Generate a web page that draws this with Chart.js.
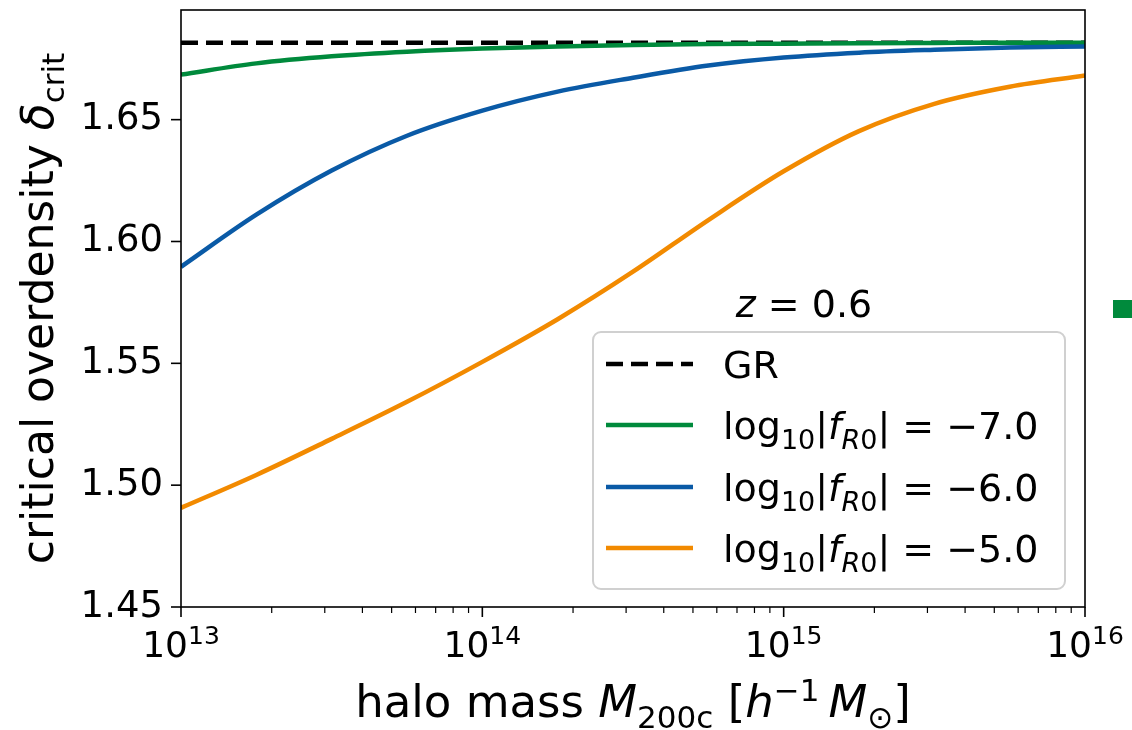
<!DOCTYPE html>
<html><head><meta charset="utf-8">
<script src="https://cdn.jsdelivr.net/npm/chart.js@4.4.0/dist/chart.umd.min.js"></script>
<style>html,body{margin:0;padding:0;background:#fff;}#wrap{position:relative;width:1132px;height:730px;}</style>
</head><body><div id="wrap"><canvas id="c" width="1132" height="730"></canvas></div>
<script>
// ---- data (log10 of halo mass) ----
const logMass = [13.0, 13.25, 13.5, 13.75, 14.0, 14.25, 14.5, 14.75, 15.0, 15.25, 15.5, 15.75, 16.0];
const deltaGR = [1.6816, 1.6816, 1.6816, 1.6816, 1.6816, 1.6816, 1.6816, 1.6816, 1.6816, 1.6816, 1.6816, 1.6816, 1.6816];
const deltaF7 = [1.6685, 1.6731, 1.6760, 1.6779, 1.6792, 1.6800, 1.6806, 1.6810, 1.6812, 1.6814, 1.6815, 1.6816, 1.6816];
const deltaF6 = [1.5896, 1.6110, 1.6291, 1.6434, 1.6537, 1.6615, 1.6672, 1.6722, 1.6755, 1.6775, 1.6787, 1.6796, 1.6800];
const deltaF5 = [1.4907, 1.5042, 1.5190, 1.5342, 1.5506, 1.5681, 1.5876, 1.6088, 1.6288, 1.6453, 1.6565, 1.6635, 1.6681];
const fR0Values = ['\u22127.0', '\u22126.0', '\u22125.0'];
const yTicks = [1.45, 1.50, 1.55, 1.60, 1.65];
const xTicks = [13, 14, 15, 16];
const xTickExponents = ['13', '14', '15', '16'];
const redshift = '0.6';

const FONT = '"DejaVu Sans"';
const COLORS = ['#000000', '#008a3c', '#0a5aa6', '#f28a00'];

function pts(ys) { return logMass.map((x, i) => ({x: x, y: ys[i]})); }

// math-text helper: parts [{t, s, it, dy}]
function mathWidth(ctx, parts, size) {
  let w = 0;
  for (const p of parts) {
    ctx.font = (p.it ? 'italic ' : '') + Math.round(size * (p.s || 1)) + 'px ' + FONT;
    w += ctx.measureText(p.t).width;
  }
  return w;
}
function drawMath(ctx, parts, x, y, size, align) {
  const w = mathWidth(ctx, parts, size);
  let cx = align === 'center' ? x - w / 2 : (align === 'right' ? x - w : x);
  ctx.textBaseline = 'alphabetic';
  ctx.textAlign = 'left';
  for (const p of parts) {
    ctx.font = (p.it ? 'italic ' : '') + Math.round(size * (p.s || 1)) + 'px ' + FONT;
    ctx.fillText(p.t, cx, y + (p.dy || 0) * size);
    cx += ctx.measureText(p.t).width;
  }
}
const SUB = 0.25, SUP = -0.36, SS = 0.7;

const decor = {
  id: 'decor',
  afterDraw(chart) {
    const ctx = chart.ctx, a = chart.chartArea;
    const xs = chart.scales.x, ys = chart.scales.y;
    ctx.save();
    ctx.fillStyle = '#000'; ctx.strokeStyle = '#000';
    // frame
    ctx.lineWidth = 1.6;
    ctx.strokeRect(a.left, a.top, a.right - a.left, a.bottom - a.top);
    // x ticks (major + minor)
    for (let d = 13; d < 16; d++) {
      for (let m = 2; m <= 9; m++) {
        const px = xs.getPixelForValue(d + Math.log10(m));
        ctx.lineWidth = 1.2;
        ctx.beginPath(); ctx.moveTo(px, a.bottom); ctx.lineTo(px, a.bottom + 6); ctx.stroke();
      }
    }
    xTicks.forEach((v, i) => {
      const px = xs.getPixelForValue(v);
      ctx.lineWidth = 1.6;
      ctx.beginPath(); ctx.moveTo(px, a.bottom); ctx.lineTo(px, a.bottom + 10); ctx.stroke();
      drawMath(ctx, [{t: '10'}, {t: xTickExponents[i], s: SS, dy: -0.36}], px, 657, 36, 'center');
    });
    // y ticks
    yTicks.forEach(v => {
      const py = ys.getPixelForValue(v);
      ctx.lineWidth = 1.6;
      ctx.beginPath(); ctx.moveTo(a.left, py); ctx.lineTo(a.left - 10, py); ctx.stroke();
    });
    // x title
    drawMath(ctx, [
      {t: 'halo mass '}, {t: 'M', it: true}, {t: '200c', s: SS, dy: SUB},
      {t: ' ['}, {t: 'h', it: true}, {t: '\u22121', s: SS, dy: SUP}, {t: '\u2009'},
      {t: 'M', it: true}, {t: '\u2299', s: SS, dy: SUB}, {t: ']'}
    ], (a.left + a.right) / 2, 717, 45, 'center');
    // y title
    ctx.save();
    ctx.translate(53, (a.top + a.bottom) / 2);
    ctx.rotate(-Math.PI / 2);
    drawMath(ctx, [{t: 'critical overdensity '}, {t: '\u03b4', it: true}, {t: 'crit', s: SS, dy: SUB}], 0, 0, 44, 'center');
    ctx.restore();
    // redshift label
    drawMath(ctx, [{t: 'z', it: true}, {t: ' = '}, {t: redshift}], 804, 317, 38, 'center');
    // legend box
    ctx.beginPath();
    ctx.roundRect(593, 332, 472, 257, 8);
    ctx.fillStyle = 'rgba(255,255,255,0.8)'; ctx.fill();
    ctx.strokeStyle = '#d0d0d0'; ctx.lineWidth = 2; ctx.stroke();
    const ds = chart.data.datasets;
    const rowY = [364, 425, 487, 548];
    ds.forEach((d, i) => {
      const y = rowY[i];
      ctx.strokeStyle = d.borderColor; ctx.lineWidth = d.borderWidth;
      ctx.setLineDash(d.borderDash || []);
      ctx.beginPath(); ctx.moveTo(606, y); ctx.lineTo(693, y); ctx.stroke();
      ctx.setLineDash([]);
      ctx.fillStyle = '#000';
      let parts;
      if (i === 0) parts = [{t: d.label}];
      else parts = [{t: 'log'}, {t: '10', s: SS, dy: SUB}, {t: '|'}, {t: 'f', it: true},
        {t: 'R', s: SS, it: true, dy: SUB}, {t: '0', s: SS, dy: SUB}, {t: '| = '}, {t: fR0Values[i - 1]}];
      drawMath(ctx, parts, 723, y + 14, 38, 'left');
    });
    // partial marker at right edge (from neighbouring panel)
    ctx.fillStyle = COLORS[1];
    ctx.fillRect(1113, 300, 19, 18);
    ctx.restore();
  }
};

new Chart(document.getElementById('c'), {
  type: 'line',
  data: {
    datasets: [
      {label: 'GR', data: pts(deltaGR), borderColor: COLORS[0], borderWidth: 4.5, borderDash: [17, 8], order: 3},
      {label: 'log10|fR0| = ' + fR0Values[0], data: pts(deltaF7), borderColor: COLORS[1], borderWidth: 4.5, order: 2},
      {label: 'log10|fR0| = ' + fR0Values[1], data: pts(deltaF6), borderColor: COLORS[2], borderWidth: 4.5, order: 1},
      {label: 'log10|fR0| = ' + fR0Values[2], data: pts(deltaF5), borderColor: COLORS[3], borderWidth: 4.5, order: 0}
    ]
  },
  options: {
    responsive: false, animation: false, devicePixelRatio: 1,
    elements: {point: {radius: 0}, line: {cubicInterpolationMode: 'monotone', fill: false}},
    layout: {padding: {left: 0, right: 47, top: 10, bottom: 0}},
    plugins: {legend: {display: false}, title: {display: false}, tooltip: {enabled: false}},
    scales: {
      x: {
        type: 'linear', min: 13, max: 16,
        grid: {display: false, drawTicks: false}, border: {display: false},
        afterBuildTicks: s => { s.ticks = xTicks.map(v => ({value: v})); },
        ticks: {callback: () => ''},
        afterFit: s => { s.height = 123; s.paddingLeft = 0; s.paddingRight = 0; }
      },
      y: {
        type: 'linear', min: 1.45, max: 1.695,
        grid: {display: false, drawTicks: false}, border: {display: false},
        afterBuildTicks: s => { s.ticks = yTicks.map(v => ({value: v})); },
        ticks: {color: '#000', padding: 18, font: {family: 'DejaVu Sans', size: 37},
          callback: v => Number(v).toFixed(2)},
        afterFit: s => { s.width = 181; s.paddingTop = 0; s.paddingBottom = 0; }
      }
    }
  },
  plugins: [decor]
});
</script></body></html>
